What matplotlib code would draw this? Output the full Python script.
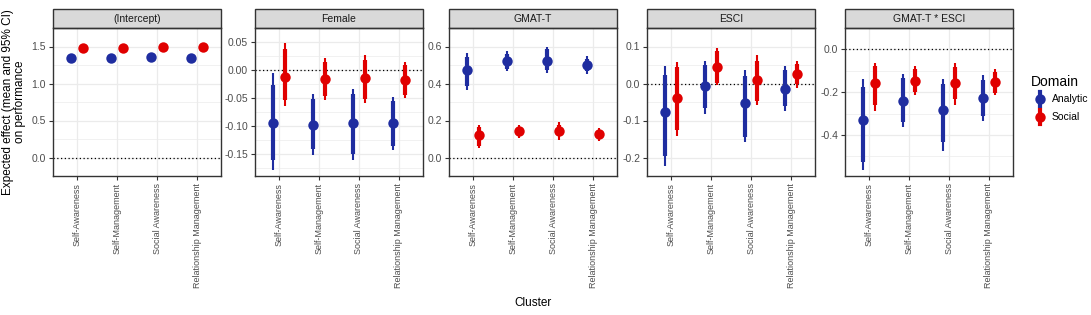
import numpy as np
import matplotlib
matplotlib.use("Agg")
from matplotlib import pyplot as plt
from matplotlib.patches import Rectangle
from matplotlib.lines import Line2D

plt.rcParams['font.family'] = ['Liberation Sans', 'DejaVu Sans']

clusters = ["Self-Awareness", "Self-Management", "Social Awareness", "Relationship Management"]
panels = ["(Intercept)", "Female", "GMAT-T", "ESCI", "GMAT-T * ESCI"]

# each row: (mean, inner low, inner high, 95% low, 95% high)
intercept_analytic = [(1.348, 1.340, 1.356, 1.335, 1.361), (1.348, 1.340, 1.356, 1.335, 1.361),
                      (1.360, 1.352, 1.368, 1.347, 1.373), (1.348, 1.340, 1.356, 1.335, 1.361)]
intercept_social = [(1.473, 1.465, 1.481, 1.460, 1.486), (1.473, 1.465, 1.481, 1.460, 1.486),
                    (1.489, 1.481, 1.497, 1.476, 1.502), (1.489, 1.481, 1.497, 1.476, 1.502)]
female_analytic = [(-0.095, -0.160, -0.026, -0.178, -0.005), (-0.0975, -0.140, -0.051, -0.152, -0.043),
                   (-0.094, -0.150, -0.042, -0.161, -0.033), (-0.095, -0.135, -0.056, -0.142, -0.048)]
female_social = [(-0.012, -0.054, 0.037, -0.064, 0.048), (-0.016, -0.046, 0.015, -0.053, 0.022),
                 (-0.015, -0.051, 0.018, -0.059, 0.026), (-0.017, -0.045, 0.009, -0.050, 0.015)]
gmat_analytic = [(0.472, 0.386, 0.542, 0.367, 0.564), (0.523, 0.478, 0.560, 0.468, 0.578),
                 (0.523, 0.475, 0.584, 0.457, 0.597), (0.500, 0.468, 0.535, 0.453, 0.546)]
gmat_social = [(0.119, 0.064, 0.166, 0.049, 0.174), (0.144, 0.119, 0.166, 0.104, 0.178),
               (0.144, 0.114, 0.178, 0.097, 0.190), (0.126, 0.107, 0.151, 0.089, 0.159)]
esci_analytic = [(-0.077, -0.197, 0.024, -0.223, 0.046), (-0.008, -0.067, 0.050, -0.082, 0.060),
                 (-0.054, -0.144, 0.020, -0.158, 0.036), (-0.015, -0.062, 0.036, -0.074, 0.046)]
esci_social = [(-0.039, -0.126, 0.044, -0.142, 0.058), (0.044, 0.002, 0.087, -0.004, 0.095),
               (0.010, -0.047, 0.062, -0.058, 0.076), (0.026, -0.002, 0.054, -0.012, 0.062)]
inter_analytic = [(-0.330, -0.526, -0.175, -0.564, -0.139), (-0.239, -0.340, -0.136, -0.361, -0.115),
                  (-0.284, -0.435, -0.164, -0.477, -0.139), (-0.227, -0.312, -0.143, -0.333, -0.122)]
inter_social = [(-0.157, -0.262, -0.080, -0.288, -0.062), (-0.146, -0.199, -0.094, -0.215, -0.077),
                (-0.157, -0.234, -0.084, -0.258, -0.063), (-0.154, -0.206, -0.108, -0.213, -0.094)]

yticks = [[0.0, 0.5, 1.0, 1.5], [-0.15, -0.10, -0.05, 0.00, 0.05], [0.0, 0.2, 0.4, 0.6],
          [-0.2, -0.1, 0.0, 0.1], [-0.4, -0.2, 0.0]]
yticklabels = [["0.0", "0.5", "1.0", "1.5"], ["-0.15", "-0.10", "-0.05", "0.00", "0.05"],
               ["0.0", "0.2", "0.4", "0.6"], ["-0.2", "-0.1", "0.0", "0.1"], ["-0.4", "-0.2", "0.0"]]
ylims = [(-0.068, 1.58), (-0.189, 0.0596), (-0.03, 0.625), (-0.238, 0.11), (-0.592, 0.027)]

data = [(intercept_analytic, intercept_social), (female_analytic, female_social),
        (gmat_analytic, gmat_social), (esci_analytic, esci_social), (inter_analytic, inter_social)]

blue = '#1F2DA0'
red = '#E00000'
W, H = 1091, 315
fig = plt.figure(figsize=(W / 100, H / 100), dpi=100)

lefts = [53, 255, 449, 647, 845]
pw = 168
top, bottom = 28, 176
strip_h = 19

for i, ax_left in enumerate(lefts):
    ax = fig.add_axes([ax_left / W, 1 - bottom / H, pw / W, (bottom - top) / H])
    x = np.arange(len(clusters))
    for rows, col, off in [(data[i][0], blue, -0.15), (data[i][1], red, 0.15)]:
        arr = np.array(rows)
        ax.vlines(x + off, arr[:, 3], arr[:, 4], color=col, lw=1.5, zorder=3)
        ax.vlines(x + off, arr[:, 1], arr[:, 2], color=col, lw=3.0, zorder=3)
        ax.plot(x + off, arr[:, 0], 'o', color=col, ms=7.5, mec='none', zorder=4)
    ax.axhline(0, color='black', lw=0.9, ls=(0, (1, 2)), zorder=2)
    ax.set_xlim(-0.6, 3.6)
    ax.set_ylim(*ylims[i])
    ax.set_xticks(x)
    ax.set_xticklabels(clusters, rotation=90, fontsize=6.5, color='#4D4D4D')
    ax.set_yticks(yticks[i])
    ax.set_yticklabels(yticklabels[i], fontsize=7.5, color='#4D4D4D')
    t = yticks[i]
    step = t[1] - t[0]
    minors = [v + step / 2 for v in t] + [t[0] - step / 2]
    ax.set_yticks(minors, minor=True)
    ax.tick_params(axis='y', which='minor', length=0)
    ax.tick_params(which='major', length=3, width=0.8, color='#333333', pad=2)
    ax.grid(True, which='major', color='#EBEBEB', lw=0.9)
    ax.grid(True, which='minor', axis='y', color='#EBEBEB', lw=0.5)
    ax.set_axisbelow(True)
    for s in ax.spines.values():
        s.set_color('#333333')
        s.set_linewidth(1.0)
    hfrac = strip_h / (bottom - top)
    ax.add_patch(Rectangle((0, 1), 1, hfrac, transform=ax.transAxes, clip_on=False,
                           facecolor='#D9D9D9', edgecolor='#333333', lw=1.0))
    ax.text(0.5, 1 + hfrac / 2, panels[i], transform=ax.transAxes, ha='center', va='center',
            fontsize=7.5, color='#1A1A1A')

fig.text(14 / W, 1 - 102 / H, "Expected effect (mean and 95% CI)\non performance", rotation=90,
         ha='center', va='center', fontsize=8.5, linespacing=1.1)
fig.text(533 / W, 1 - 303 / H, "Cluster", ha='center', va='center', fontsize=8.5)

# legend
fig.text(1031 / W, 1 - 82 / H, "Domain", ha='left', va='center', fontsize=10)
for lab, col, yy in [("Analytic", blue, 99), ("Social", red, 117)]:
    fy = 1 - yy / H
    fig.add_artist(Line2D([1040 / W, 1040 / W], [fy - 7 / H, fy + 7 / H], color=col, lw=3.0,
                          transform=fig.transFigure))
    fig.add_artist(Line2D([1040 / W], [fy], marker='o', color=col, ms=7.5, mec='none',
                          transform=fig.transFigure))
    fig.text(1052 / W, fy, lab, ha='left', va='center', fontsize=7.5)

fig.savefig("out.png", dpi=100)
